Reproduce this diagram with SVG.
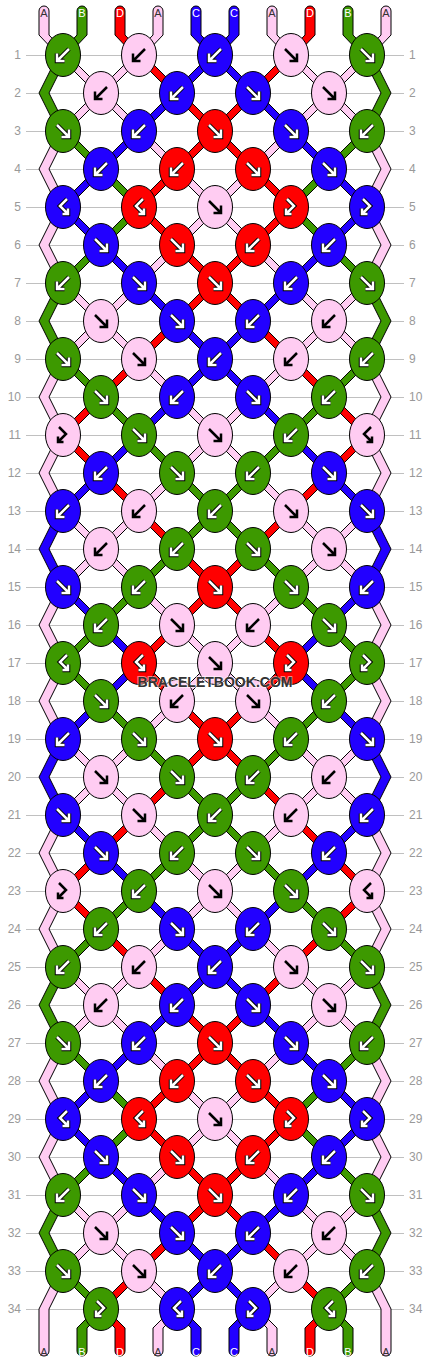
<svg xmlns="http://www.w3.org/2000/svg" width="430" height="1364" viewBox="0 0 430 1364">
<style>
.grid{fill:none;stroke:#c0c0c0;stroke-width:1}
.rl{font-family:"Liberation Sans",Arial,sans-serif;font-size:12px;fill:#999}
.l{text-anchor:end}
.str{stroke:#000;stroke-width:1;stroke-linejoin:miter}
.cP{fill:#ffccf2}.cG{fill:#3d9900}.cU{fill:#2200ff}.cR{fill:#ff0000}
.ab{fill:none;stroke:#000;stroke-width:2.5}
.ao{fill:none;stroke:#000;stroke-width:4.5}
.ai{fill:none;stroke:#fff;stroke-width:2.5}
.sl{font-family:"Liberation Sans",Arial,sans-serif;font-size:11px;text-anchor:middle}
.dk{fill:#333}.wt{fill:#fff}
.wm{font-family:"Liberation Sans",Arial,sans-serif;font-size:15px;font-weight:bold;fill:#333;text-anchor:middle;stroke:#fff;stroke-opacity:.5;stroke-width:2;paint-order:stroke}
</style>
<defs>
<ellipse id="e" rx="17.5" ry="21.5" stroke="#000" stroke-width="1"/>
<path id="pF" d="M-6,-6L5,5M6,-1.5V6H-1.5"/>
<path id="pB" d="M6,-6L-5,5M-6,-1.5V6H1.5"/>
<path id="pFB" d="M-4,-8L3,-1L-5,7M-5,1.5V7H0.5"/>
<path id="pBF" d="M4,-8L-3,-1L5,7M5,1.5V7H-0.5"/>
<g id="wF"><use href="#pF" class="ao"/><use href="#pF" class="ai"/></g>
<g id="wB"><use href="#pB" class="ao"/><use href="#pB" class="ai"/></g>
<g id="wFB"><use href="#pFB" class="ao"/><use href="#pFB" class="ai"/></g>
<g id="wBF"><use href="#pBF" class="ao"/><use href="#pBF" class="ai"/></g>
<g id="PF"><use href="#e" class="cP"/><use href="#pF" class="ab"/></g>
<g id="PB"><use href="#e" class="cP"/><use href="#pB" class="ab"/></g>
<g id="PFB"><use href="#e" class="cP"/><use href="#pFB" class="ab"/></g>
<g id="PBF"><use href="#e" class="cP"/><use href="#pBF" class="ab"/></g>
<g id="GF"><use href="#e" class="cG"/><use href="#wF"/></g>
<g id="GB"><use href="#e" class="cG"/><use href="#wB"/></g>
<g id="GFB"><use href="#e" class="cG"/><use href="#wFB"/></g>
<g id="GBF"><use href="#e" class="cG"/><use href="#wBF"/></g>
<g id="UF"><use href="#e" class="cU"/><use href="#wF"/></g>
<g id="UB"><use href="#e" class="cU"/><use href="#wB"/></g>
<g id="UFB"><use href="#e" class="cU"/><use href="#wFB"/></g>
<g id="UBF"><use href="#e" class="cU"/><use href="#wBF"/></g>
<g id="RF"><use href="#e" class="cR"/><use href="#wF"/></g>
<g id="RB"><use href="#e" class="cR"/><use href="#wB"/></g>
<g id="RFB"><use href="#e" class="cR"/><use href="#wFB"/></g>
<g id="RBF"><use href="#e" class="cR"/><use href="#wBF"/></g>
</defs>
<rect width="430" height="1364" fill="#fff"/>
<path class="grid" d="M26,55.5H404M26,93.5H404M26,131.5H404M26,169.5H404M26,207.5H404M26,245.5H404M26,283.5H404M26,321.5H404M26,359.5H404M26,397.5H404M26,435.5H404M26,473.5H404M26,511.5H404M26,549.5H404M26,587.5H404M26,625.5H404M26,663.5H404M26,701.5H404M26,739.5H404M26,777.5H404M26,815.5H404M26,853.5H404M26,891.5H404M26,929.5H404M26,967.5H404M26,1005.5H404M26,1043.5H404M26,1081.5H404M26,1119.5H404M26,1157.5H404M26,1195.5H404M26,1233.5H404M26,1271.5H404M26,1309.5H404"/>
<g id="row-labels">
<text class="rl l" x="21" y="59">1</text><text class="rl" x="409" y="59">1</text>
<text class="rl l" x="21" y="97">2</text><text class="rl" x="409" y="97">2</text>
<text class="rl l" x="21" y="135">3</text><text class="rl" x="409" y="135">3</text>
<text class="rl l" x="21" y="173">4</text><text class="rl" x="409" y="173">4</text>
<text class="rl l" x="21" y="211">5</text><text class="rl" x="409" y="211">5</text>
<text class="rl l" x="21" y="249">6</text><text class="rl" x="409" y="249">6</text>
<text class="rl l" x="21" y="287">7</text><text class="rl" x="409" y="287">7</text>
<text class="rl l" x="21" y="325">8</text><text class="rl" x="409" y="325">8</text>
<text class="rl l" x="21" y="363">9</text><text class="rl" x="409" y="363">9</text>
<text class="rl l" x="21" y="401">10</text><text class="rl" x="409" y="401">10</text>
<text class="rl l" x="21" y="439">11</text><text class="rl" x="409" y="439">11</text>
<text class="rl l" x="21" y="477">12</text><text class="rl" x="409" y="477">12</text>
<text class="rl l" x="21" y="515">13</text><text class="rl" x="409" y="515">13</text>
<text class="rl l" x="21" y="553">14</text><text class="rl" x="409" y="553">14</text>
<text class="rl l" x="21" y="591">15</text><text class="rl" x="409" y="591">15</text>
<text class="rl l" x="21" y="629">16</text><text class="rl" x="409" y="629">16</text>
<text class="rl l" x="21" y="667">17</text><text class="rl" x="409" y="667">17</text>
<text class="rl l" x="21" y="705">18</text><text class="rl" x="409" y="705">18</text>
<text class="rl l" x="21" y="743">19</text><text class="rl" x="409" y="743">19</text>
<text class="rl l" x="21" y="781">20</text><text class="rl" x="409" y="781">20</text>
<text class="rl l" x="21" y="819">21</text><text class="rl" x="409" y="819">21</text>
<text class="rl l" x="21" y="857">22</text><text class="rl" x="409" y="857">22</text>
<text class="rl l" x="21" y="895">23</text><text class="rl" x="409" y="895">23</text>
<text class="rl l" x="21" y="933">24</text><text class="rl" x="409" y="933">24</text>
<text class="rl l" x="21" y="971">25</text><text class="rl" x="409" y="971">25</text>
<text class="rl l" x="21" y="1009">26</text><text class="rl" x="409" y="1009">26</text>
<text class="rl l" x="21" y="1047">27</text><text class="rl" x="409" y="1047">27</text>
<text class="rl l" x="21" y="1085">28</text><text class="rl" x="409" y="1085">28</text>
<text class="rl l" x="21" y="1123">29</text><text class="rl" x="409" y="1123">29</text>
<text class="rl l" x="21" y="1161">30</text><text class="rl" x="409" y="1161">30</text>
<text class="rl l" x="21" y="1199">31</text><text class="rl" x="409" y="1199">31</text>
<text class="rl l" x="21" y="1237">32</text><text class="rl" x="409" y="1237">32</text>
<text class="rl l" x="21" y="1275">33</text><text class="rl" x="409" y="1275">33</text>
<text class="rl l" x="21" y="1313">34</text><text class="rl" x="409" y="1313">34</text>
</g>
<g id="connectors">
<path id="s1" class="str cP" d="M39,11A5,5 0 0 1 49,11L49,35 68,55 106,93 144,131 182,169 220,207 258,245 296,283 334,321 372,359 391,397 372,435 391,473 372,511 334,549 296,587 258,625 220,663 182,701 144,739 106,777 68,815 49,853 68,891 49,929 68,967 106,1005 144,1043 182,1081 220,1119 258,1157 296,1195 334,1233 372,1271 391,1309 391,1351A5,5 0 0 1 381,1351L381,1309 362,1271 324,1233 286,1195 248,1157 210,1119 172,1081 134,1043 96,1005 58,967 39,929 58,891 39,853 58,815 96,777 134,739 172,701 210,663 248,625 286,587 324,549 362,511 381,473 362,435 381,397 362,359 324,321 286,283 248,245 210,207 172,169 134,131 96,93 58,55 39,35Z"/>
<path id="s2" class="str cG" d="M77,11A5,5 0 0 1 87,11L87,35 68,55 49,93 68,131 106,169 144,207 106,245 68,283 49,321 68,359 106,397 144,435 182,473 220,511 258,549 296,587 334,625 372,663 334,701 296,739 258,777 220,815 182,853 144,891 106,929 68,967 49,1005 68,1043 106,1081 144,1119 106,1157 68,1195 49,1233 68,1271 106,1309 87,1328 87,1351A5,5 0 0 1 77,1351L77,1328 96,1309 58,1271 39,1233 58,1195 96,1157 134,1119 96,1081 58,1043 39,1005 58,967 96,929 134,891 172,853 210,815 248,777 286,739 324,701 362,663 324,625 286,587 248,549 210,511 172,473 134,435 96,397 58,359 39,321 58,283 96,245 134,207 96,169 58,131 39,93 58,55 77,35Z"/>
<path id="s3" class="str cR" d="M115,11A5,5 0 0 1 125,11L125,35 144,55 182,93 220,131 258,169 296,207 258,245 220,283 182,321 144,359 106,397 68,435 106,473 144,511 182,549 220,587 258,625 296,663 258,701 220,739 182,777 144,815 106,853 68,891 106,929 144,967 182,1005 220,1043 258,1081 296,1119 258,1157 220,1195 182,1233 144,1271 106,1309 125,1328 125,1351A5,5 0 0 1 115,1351L115,1328 96,1309 134,1271 172,1233 210,1195 248,1157 286,1119 248,1081 210,1043 172,1005 134,967 96,929 58,891 96,853 134,815 172,777 210,739 248,701 286,663 248,625 210,587 172,549 134,511 96,473 58,435 96,397 134,359 172,321 210,283 248,245 286,207 248,169 210,131 172,93 134,55 115,35Z"/>
<path id="s4" class="str cP" d="M153,11A5,5 0 0 1 163,11L163,35 144,55 106,93 68,131 49,169 68,207 49,245 68,283 106,321 144,359 182,397 220,435 258,473 296,511 334,549 372,587 391,625 372,663 391,701 372,739 334,777 296,815 258,853 220,891 182,929 144,967 106,1005 68,1043 49,1081 68,1119 49,1157 68,1195 106,1233 144,1271 182,1309 163,1328 163,1351A5,5 0 0 1 153,1351L153,1328 172,1309 134,1271 96,1233 58,1195 39,1157 58,1119 39,1081 58,1043 96,1005 134,967 172,929 210,891 248,853 286,815 324,777 362,739 381,701 362,663 381,625 362,587 324,549 286,511 248,473 210,435 172,397 134,359 96,321 58,283 39,245 58,207 39,169 58,131 96,93 134,55 153,35Z"/>
<path id="s5" class="str cU" d="M191,11A5,5 0 0 1 201,11L201,35 220,55 258,93 296,131 334,169 372,207 334,245 296,283 258,321 220,359 182,397 144,435 106,473 68,511 49,549 68,587 106,625 144,663 106,701 68,739 49,777 68,815 106,853 144,891 182,929 220,967 258,1005 296,1043 334,1081 372,1119 334,1157 296,1195 258,1233 220,1271 182,1309 201,1328 201,1351A5,5 0 0 1 191,1351L191,1328 172,1309 210,1271 248,1233 286,1195 324,1157 362,1119 324,1081 286,1043 248,1005 210,967 172,929 134,891 96,853 58,815 39,777 58,739 96,701 134,663 96,625 58,587 39,549 58,511 96,473 134,435 172,397 210,359 248,321 286,283 324,245 362,207 324,169 286,131 248,93 210,55 191,35Z"/>
<use href="#s1" transform="matrix(-1 0 0 1 430 0)"/>
<use href="#s2" transform="matrix(-1 0 0 1 430 0)"/>
<use href="#s3" transform="matrix(-1 0 0 1 430 0)"/>
<use href="#s4" transform="matrix(-1 0 0 1 430 0)"/>
<use href="#s5" transform="matrix(-1 0 0 1 430 0)"/>
</g>
<g id="knots">
<g id="k1-1"><use href="#GB" x="63" y="55"/></g><g id="k1-2"><use href="#PB" x="139" y="55"/></g><g id="k1-3"><use href="#UB" x="215" y="55"/></g><g id="k1-4"><use href="#PF" x="291" y="55"/></g><g id="k1-5"><use href="#GF" x="367" y="55"/></g>
<g id="k2-1"><use href="#PB" x="101" y="93"/></g><g id="k2-2"><use href="#UB" x="177" y="93"/></g><g id="k2-3"><use href="#UF" x="253" y="93"/></g><g id="k2-4"><use href="#PF" x="329" y="93"/></g>
<g id="k3-1"><use href="#GF" x="63" y="131"/></g><g id="k3-2"><use href="#UB" x="139" y="131"/></g><g id="k3-3"><use href="#RF" x="215" y="131"/></g><g id="k3-4"><use href="#UF" x="291" y="131"/></g><g id="k3-5"><use href="#GB" x="367" y="131"/></g>
<g id="k4-1"><use href="#UB" x="101" y="169"/></g><g id="k4-2"><use href="#RB" x="177" y="169"/></g><g id="k4-3"><use href="#RF" x="253" y="169"/></g><g id="k4-4"><use href="#UF" x="329" y="169"/></g>
<g id="k5-1"><use href="#UBF" x="63" y="207"/></g><g id="k5-2"><use href="#RBF" x="139" y="207"/></g><g id="k5-3"><use href="#PF" x="215" y="207"/></g><g id="k5-4"><use href="#RFB" x="291" y="207"/></g><g id="k5-5"><use href="#UFB" x="367" y="207"/></g>
<g id="k6-1"><use href="#UF" x="101" y="245"/></g><g id="k6-2"><use href="#RF" x="177" y="245"/></g><g id="k6-3"><use href="#RB" x="253" y="245"/></g><g id="k6-4"><use href="#UB" x="329" y="245"/></g>
<g id="k7-1"><use href="#GB" x="63" y="283"/></g><g id="k7-2"><use href="#UF" x="139" y="283"/></g><g id="k7-3"><use href="#RF" x="215" y="283"/></g><g id="k7-4"><use href="#UB" x="291" y="283"/></g><g id="k7-5"><use href="#GF" x="367" y="283"/></g>
<g id="k8-1"><use href="#PF" x="101" y="321"/></g><g id="k8-2"><use href="#UF" x="177" y="321"/></g><g id="k8-3"><use href="#UB" x="253" y="321"/></g><g id="k8-4"><use href="#PB" x="329" y="321"/></g>
<g id="k9-1"><use href="#GF" x="63" y="359"/></g><g id="k9-2"><use href="#PF" x="139" y="359"/></g><g id="k9-3"><use href="#UB" x="215" y="359"/></g><g id="k9-4"><use href="#PB" x="291" y="359"/></g><g id="k9-5"><use href="#GB" x="367" y="359"/></g>
<g id="k10-1"><use href="#GF" x="101" y="397"/></g><g id="k10-2"><use href="#UB" x="177" y="397"/></g><g id="k10-3"><use href="#UF" x="253" y="397"/></g><g id="k10-4"><use href="#GB" x="329" y="397"/></g>
<g id="k11-1"><use href="#PFB" x="63" y="435"/></g><g id="k11-2"><use href="#GF" x="139" y="435"/></g><g id="k11-3"><use href="#PF" x="215" y="435"/></g><g id="k11-4"><use href="#GB" x="291" y="435"/></g><g id="k11-5"><use href="#PBF" x="367" y="435"/></g>
<g id="k12-1"><use href="#UB" x="101" y="473"/></g><g id="k12-2"><use href="#GF" x="177" y="473"/></g><g id="k12-3"><use href="#GB" x="253" y="473"/></g><g id="k12-4"><use href="#UF" x="329" y="473"/></g>
<g id="k13-1"><use href="#UB" x="63" y="511"/></g><g id="k13-2"><use href="#PB" x="139" y="511"/></g><g id="k13-3"><use href="#GB" x="215" y="511"/></g><g id="k13-4"><use href="#PF" x="291" y="511"/></g><g id="k13-5"><use href="#UF" x="367" y="511"/></g>
<g id="k14-1"><use href="#PB" x="101" y="549"/></g><g id="k14-2"><use href="#GB" x="177" y="549"/></g><g id="k14-3"><use href="#GF" x="253" y="549"/></g><g id="k14-4"><use href="#PF" x="329" y="549"/></g>
<g id="k15-1"><use href="#UF" x="63" y="587"/></g><g id="k15-2"><use href="#GB" x="139" y="587"/></g><g id="k15-3"><use href="#RF" x="215" y="587"/></g><g id="k15-4"><use href="#GF" x="291" y="587"/></g><g id="k15-5"><use href="#UB" x="367" y="587"/></g>
<g id="k16-1"><use href="#GB" x="101" y="625"/></g><g id="k16-2"><use href="#PF" x="177" y="625"/></g><g id="k16-3"><use href="#PB" x="253" y="625"/></g><g id="k16-4"><use href="#GF" x="329" y="625"/></g>
<g id="k17-1"><use href="#GBF" x="63" y="663"/></g><g id="k17-2"><use href="#RBF" x="139" y="663"/></g><g id="k17-3"><use href="#PF" x="215" y="663"/></g><g id="k17-4"><use href="#RFB" x="291" y="663"/></g><g id="k17-5"><use href="#GFB" x="367" y="663"/></g>
<g id="k18-1"><use href="#GF" x="101" y="701"/></g><g id="k18-2"><use href="#PB" x="177" y="701"/></g><g id="k18-3"><use href="#PF" x="253" y="701"/></g><g id="k18-4"><use href="#GB" x="329" y="701"/></g>
<g id="k19-1"><use href="#UB" x="63" y="739"/></g><g id="k19-2"><use href="#GF" x="139" y="739"/></g><g id="k19-3"><use href="#RF" x="215" y="739"/></g><g id="k19-4"><use href="#GB" x="291" y="739"/></g><g id="k19-5"><use href="#UF" x="367" y="739"/></g>
<g id="k20-1"><use href="#PF" x="101" y="777"/></g><g id="k20-2"><use href="#GF" x="177" y="777"/></g><g id="k20-3"><use href="#GB" x="253" y="777"/></g><g id="k20-4"><use href="#PB" x="329" y="777"/></g>
<g id="k21-1"><use href="#UF" x="63" y="815"/></g><g id="k21-2"><use href="#PF" x="139" y="815"/></g><g id="k21-3"><use href="#GB" x="215" y="815"/></g><g id="k21-4"><use href="#PB" x="291" y="815"/></g><g id="k21-5"><use href="#UB" x="367" y="815"/></g>
<g id="k22-1"><use href="#UF" x="101" y="853"/></g><g id="k22-2"><use href="#GB" x="177" y="853"/></g><g id="k22-3"><use href="#GF" x="253" y="853"/></g><g id="k22-4"><use href="#UB" x="329" y="853"/></g>
<g id="k23-1"><use href="#PFB" x="63" y="891"/></g><g id="k23-2"><use href="#GB" x="139" y="891"/></g><g id="k23-3"><use href="#PF" x="215" y="891"/></g><g id="k23-4"><use href="#GF" x="291" y="891"/></g><g id="k23-5"><use href="#PBF" x="367" y="891"/></g>
<g id="k24-1"><use href="#GB" x="101" y="929"/></g><g id="k24-2"><use href="#UF" x="177" y="929"/></g><g id="k24-3"><use href="#UB" x="253" y="929"/></g><g id="k24-4"><use href="#GF" x="329" y="929"/></g>
<g id="k25-1"><use href="#GB" x="63" y="967"/></g><g id="k25-2"><use href="#PB" x="139" y="967"/></g><g id="k25-3"><use href="#UB" x="215" y="967"/></g><g id="k25-4"><use href="#PF" x="291" y="967"/></g><g id="k25-5"><use href="#GF" x="367" y="967"/></g>
<g id="k26-1"><use href="#PB" x="101" y="1005"/></g><g id="k26-2"><use href="#UB" x="177" y="1005"/></g><g id="k26-3"><use href="#UF" x="253" y="1005"/></g><g id="k26-4"><use href="#PF" x="329" y="1005"/></g>
<g id="k27-1"><use href="#GF" x="63" y="1043"/></g><g id="k27-2"><use href="#UB" x="139" y="1043"/></g><g id="k27-3"><use href="#RF" x="215" y="1043"/></g><g id="k27-4"><use href="#UF" x="291" y="1043"/></g><g id="k27-5"><use href="#GB" x="367" y="1043"/></g>
<g id="k28-1"><use href="#UB" x="101" y="1081"/></g><g id="k28-2"><use href="#RB" x="177" y="1081"/></g><g id="k28-3"><use href="#RF" x="253" y="1081"/></g><g id="k28-4"><use href="#UF" x="329" y="1081"/></g>
<g id="k29-1"><use href="#UBF" x="63" y="1119"/></g><g id="k29-2"><use href="#RBF" x="139" y="1119"/></g><g id="k29-3"><use href="#PF" x="215" y="1119"/></g><g id="k29-4"><use href="#RFB" x="291" y="1119"/></g><g id="k29-5"><use href="#UFB" x="367" y="1119"/></g>
<g id="k30-1"><use href="#UF" x="101" y="1157"/></g><g id="k30-2"><use href="#RF" x="177" y="1157"/></g><g id="k30-3"><use href="#RB" x="253" y="1157"/></g><g id="k30-4"><use href="#UB" x="329" y="1157"/></g>
<g id="k31-1"><use href="#GB" x="63" y="1195"/></g><g id="k31-2"><use href="#UF" x="139" y="1195"/></g><g id="k31-3"><use href="#RF" x="215" y="1195"/></g><g id="k31-4"><use href="#UB" x="291" y="1195"/></g><g id="k31-5"><use href="#GF" x="367" y="1195"/></g>
<g id="k32-1"><use href="#PF" x="101" y="1233"/></g><g id="k32-2"><use href="#UF" x="177" y="1233"/></g><g id="k32-3"><use href="#UB" x="253" y="1233"/></g><g id="k32-4"><use href="#PB" x="329" y="1233"/></g>
<g id="k33-1"><use href="#GF" x="63" y="1271"/></g><g id="k33-2"><use href="#PF" x="139" y="1271"/></g><g id="k33-3"><use href="#UB" x="215" y="1271"/></g><g id="k33-4"><use href="#PB" x="291" y="1271"/></g><g id="k33-5"><use href="#GB" x="367" y="1271"/></g>
<g id="k34-1"><use href="#GFB" x="101" y="1309"/></g><g id="k34-2"><use href="#UBF" x="177" y="1309"/></g><g id="k34-3"><use href="#UFB" x="253" y="1309"/></g><g id="k34-4"><use href="#GBF" x="329" y="1309"/></g>
</g>
<g id="string-labels">
<text class="sl dk" x="44" y="16.5">A</text><text class="sl wt" x="82" y="16.5">B</text><text class="sl wt" x="120" y="16.5">D</text><text class="sl dk" x="158" y="16.5">A</text><text class="sl wt" x="196" y="16.5">C</text><text class="sl wt" x="234" y="16.5">C</text><text class="sl dk" x="272" y="16.5">A</text><text class="sl wt" x="310" y="16.5">D</text><text class="sl wt" x="348" y="16.5">B</text><text class="sl dk" x="386" y="16.5">A</text>
<text class="sl dk" x="44" y="1356">A</text><text class="sl wt" x="82" y="1356">B</text><text class="sl wt" x="120" y="1356">D</text><text class="sl dk" x="158" y="1356">A</text><text class="sl wt" x="196" y="1356">C</text><text class="sl wt" x="234" y="1356">C</text><text class="sl dk" x="272" y="1356">A</text><text class="sl wt" x="310" y="1356">D</text><text class="sl wt" x="348" y="1356">B</text><text class="sl dk" x="386" y="1356">A</text>
</g>
<text class="wm" x="215" y="687" textLength="155" lengthAdjust="spacingAndGlyphs">BRACELETBOOK.COM</text>
</svg>
